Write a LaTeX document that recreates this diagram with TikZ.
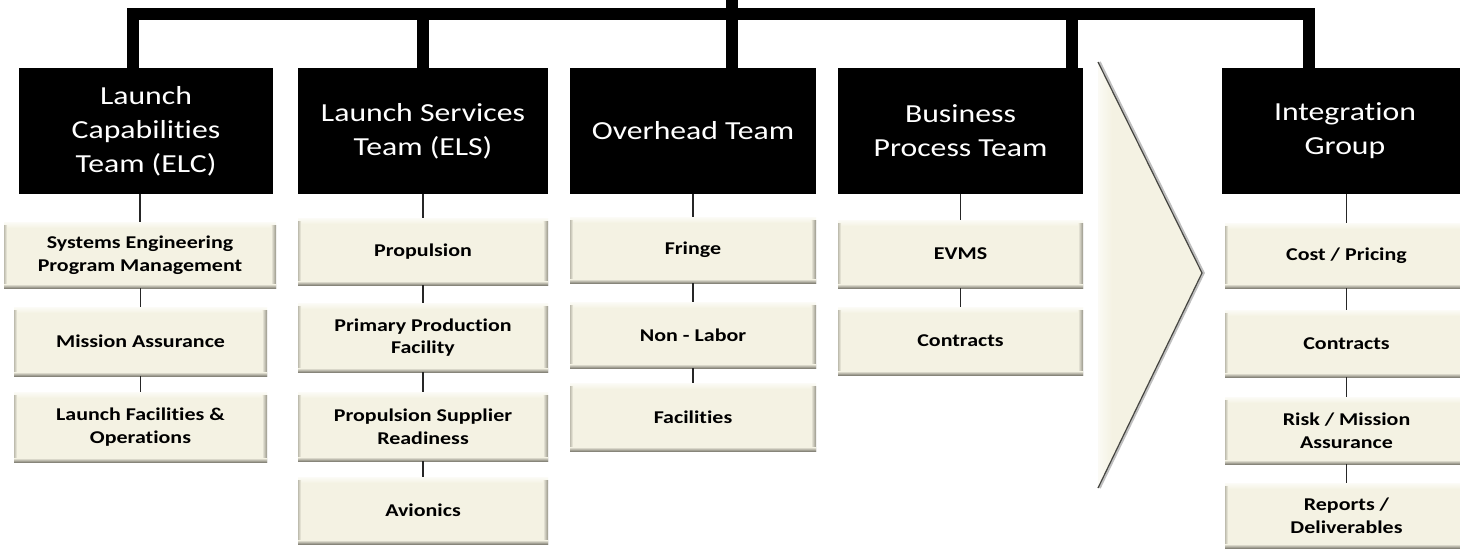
\documentclass[tikz,border=0pt]{standalone}
\usepackage{fontspec}
\newfontfamily\titlefont{Carlito}[FakeStretch=1.22, Ligatures={NoCommon}]
\newfontfamily\subfont{Carlito}[FakeStretch=1.22, Ligatures={NoCommon}]
\usetikzlibrary{calc}
\definecolor{cream}{RGB}{244,242,227}
\definecolor{bevL}{RGB}{190,188,174}
\definecolor{bevR}{RGB}{150,148,136}
\definecolor{bevB}{RGB}{135,133,122}
\definecolor{chevedge}{RGB}{70,70,66}
\tikzset{
  head/.style={fill=black, text=white, inner sep=0pt, align=center,
    minimum height=126pt,
    font=\titlefont\fontsize{26}{34}\selectfont},
  subbox/.style={fill=cream, inner sep=0pt, align=center,
    font=\subfont\bfseries\fontsize{18}{22.5}\selectfont,
    path picture={
      \coordinate (ppsw) at (path picture bounding box.south west);
      \coordinate (ppne) at (path picture bounding box.north east);
      \shade[top color=white!70!cream, bottom color=cream]
        (ppsw |- ppne) rectangle ($(ppne)+(0,-6)$);
      \shade[left color=bevL, right color=cream]
        (ppsw) rectangle ($(ppsw |- ppne)+(3,-3)$);
      \shade[left color=cream, right color=bevR]
        ($(ppne)+(-5,-3)$) rectangle (ppsw -| ppne);
      \shade[top color=cream, bottom color=bevB]
        (ppsw) rectangle ($(ppsw -| ppne)+(0,4)$);
    }},
  trunk/.style={line width=12pt, line join=miter, line cap=butt},
  conn/.style={line width=1.5pt, black!85},
}
\begin{document}
\begin{tikzpicture}[x=1pt,y=1pt]
\fill[white] (0,0) rectangle (1460,-550);
\useasboundingbox (0,0) rectangle (1460,-550);

% chevron
\coordinate (cvA) at (1098,-62);
\coordinate (cvB) at (1202,-273);
\coordinate (cvC) at (1098,-488);
\begin{scope}
  \clip (cvA) -- (cvB) -- (cvC) -- cycle;
  \fill[cream] (1090,-55) rectangle (1210,-495);
  \shade[left color=white, right color=cream] (1090,-55) rectangle (1112,-495);
\end{scope}
\draw[line width=2.5pt, black!25, line join=miter] ($(cvA)+(1.5,0)$) -- ($(cvB)+(1.5,0)$) -- ($(cvC)+(1.5,0)$);
\draw[line width=1.2pt, chevedge, line join=miter] (cvA) -- (cvB) -- (cvC);

% head boxes
\node[head, minimum width=254pt] (elc) at (146,-131) {Launch\\Capabilities\\Team (ELC)};
\node[head, minimum width=250pt] (els) at (423,-131) {Launch Services\\Team (ELS)};
\node[head, minimum width=246pt] (ovh) at (693,-131) {Overhead Team};
\node[head, minimum width=245pt] (bus) at (960.5,-131) {Business\\Process Team};
\node[head, minimum width=246pt] (intg) at (1345,-131) {Integration\\Group};

% trunk
\coordinate (jA) at (133,-14);
\coordinate (jB) at (423,-14);
\coordinate (jC) at (732,-14);
\coordinate (jD) at (1072,-14);
\coordinate (jE) at (1309,-14);
\coordinate (jTop) at (732,0);
\draw[trunk] (elc.north -| jA) -- (jA) -- (jE) -- (intg.north -| jE);
\draw[trunk] (jB) -- (els.north -| jB);
\draw[trunk] (jTop) -- (jC) -- (ovh.north -| jC);
\draw[trunk] (jD) -- (bus.north -| jD);

% ELC column
\node[subbox, minimum width=272pt, minimum height=66pt] (elc1) at (140,-255) {Systems Engineering\\Program Management};
\node[subbox, minimum width=253pt, minimum height=69pt] (elc2) at (140.5,-341.5) {Mission Assurance};
\node[subbox, minimum width=253pt, minimum height=70pt] (elc3) at (140.5,-427) {Launch Facilities \&\\Operations};

% ELS column
\node[subbox, minimum width=250pt, minimum height=67pt] (els1) at (423,-251.5) {Propulsion};
\node[subbox, minimum width=250pt, minimum height=69pt] (els2) at (423,-337.5) {Primary Production\\Facility};
\node[subbox, minimum width=250pt, minimum height=69pt] (els3) at (423,-426.5) {Propulsion Supplier\\Readiness};
\node[subbox, minimum width=250pt, minimum height=67pt] (els4) at (423,-510.5) {Avionics};

% Overhead column
\node[subbox, minimum width=246pt, minimum height=66pt] (ovh1) at (693,-250) {Fringe};
\node[subbox, minimum width=246pt, minimum height=66pt] (ovh2) at (693,-335) {Non - Labor};
\node[subbox, minimum width=246pt, minimum height=68pt] (ovh3) at (693,-417) {Facilities};

% Business column
\node[subbox, minimum width=245pt, minimum height=68pt] (bus1) at (960.5,-254) {EVMS};
\node[subbox, minimum width=245pt, minimum height=68pt] (bus2) at (960.5,-341) {Contracts};

% Integration column
\node[subbox, minimum width=243pt, minimum height=65pt] (int1) at (1346.5,-255.5) {Cost / Pricing};
\node[subbox, minimum width=243pt, minimum height=67pt] (int2) at (1346.5,-343.5) {Contracts};
\node[subbox, minimum width=243pt, minimum height=67pt] (int3) at (1346.5,-430.5) {Risk / Mission\\Assurance};
\node[subbox, minimum width=243pt, minimum height=65pt] (int4) at (1346.5,-515.5) {Reports /\\Deliverables};

% connectors
\draw[conn] (elc.south -| elc1.north) -- (elc1.north);
\draw[conn] (elc1.south -| elc2.north) -- (elc2.north);
\draw[conn] (elc2.south) -- (elc3.north);
\draw[conn] (els.south) -- (els1.north);
\draw[conn] (els1.south) -- (els2.north);
\draw[conn] (els2.south) -- (els3.north);
\draw[conn] (els3.south) -- (els4.north);
\draw[conn] (ovh.south) -- (ovh1.north);
\draw[conn] (ovh1.south) -- (ovh2.north);
\draw[conn] (ovh2.south) -- (ovh3.north);
\draw[conn] (bus.south) -- (bus1.north);
\draw[conn] (bus1.south) -- (bus2.north);
\draw[conn] (intg.south -| int1.north) -- (int1.north);
\draw[conn] (int1.south) -- (int2.north);
\draw[conn] (int2.south) -- (int3.north);
\draw[conn] (int3.south) -- (int4.north);
\end{tikzpicture}
\end{document}
